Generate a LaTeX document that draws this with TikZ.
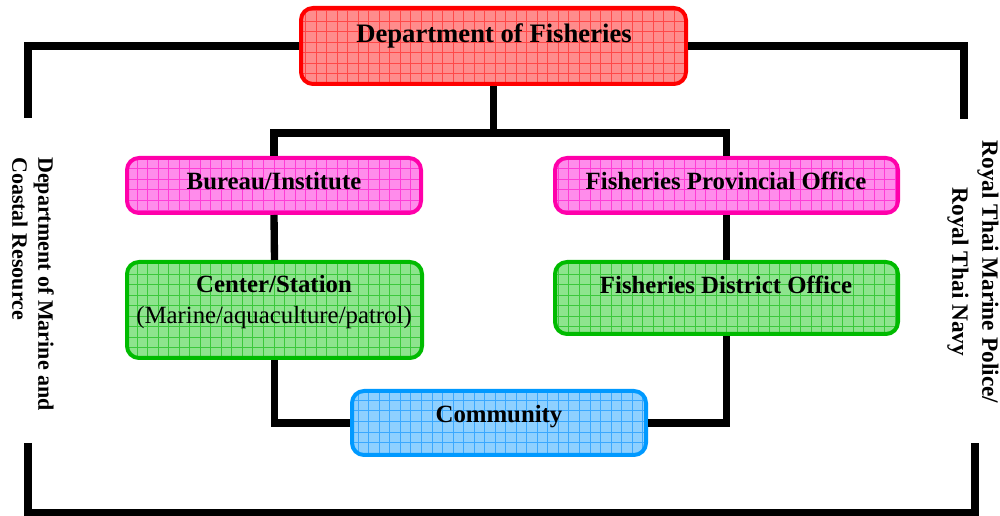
\documentclass[tikz,border=0pt]{standalone}
\usepackage{fontspec}
\setmainfont{Liberation Serif}
\usetikzlibrary{fit}
\definecolor{redS}{HTML}{FF0000}\definecolor{redF}{HTML}{FF8C8C}\definecolor{redG}{HTML}{FF4848}
\definecolor{magS}{HTML}{FF00AA}\definecolor{magF}{HTML}{FF8CEB}\definecolor{magG}{HTML}{FF3CD6}
\definecolor{grnS}{HTML}{00BB00}\definecolor{grnF}{HTML}{8EE48E}\definecolor{grnG}{HTML}{3CC83C}
\definecolor{bluS}{HTML}{0099FF}\definecolor{bluF}{HTML}{8ED0FF}\definecolor{bluG}{HTML}{3AA8FF}
\newcommand{\gridbox}[6]{%
  \path[fill=#2F, rounded corners=9pt] (#3,#4) rectangle (#5,#6);
  \begin{scope}
    \clip[rounded corners=9pt] (#3,#4) rectangle (#5,#6);
    \draw[#2G, line width=0.5pt, step=7.9pt] (#3,#4) grid (#5,#6);
  \end{scope}
  \node[fit={(#3,#4) (#5,#6)}, inner sep=0pt, draw=#2S, line width=3pt, rounded corners=9pt] (#1) {};
}
\tikzset{
  conn/.style={line width=5.5pt, line join=miter, draw=black},
  lbl/.style={font=\fontsize{18.6}{22}\selectfont\bfseries, anchor=base, inner sep=0pt},
}
\begin{document}
\begin{tikzpicture}[x=0.75pt,y=-0.75pt]
\useasboundingbox (0,0) rectangle (1000,516);
% connector coordinates
\coordinate (jl) at (274,133);
\coordinate (jr) at (726.5,133);
\coordinate (ftl) at (28,47);
\coordinate (ftle) at (28,118);
\coordinate (ftr) at (964,47);
\coordinate (ftre) at (964,119);
\coordinate (fbls) at (28,443);
\coordinate (fbl) at (28,512.5);
\coordinate (fbr) at (975,512.5);
\coordinate (fbrs) at (975,443);
% boxes
\gridbox{dept}{red}{301}{8}{686}{84}
\gridbox{bureau}{mag}{127}{158}{421}{213}
\gridbox{prov}{mag}{555}{158}{898}{213}
\gridbox{center}{grn}{127}{262}{422}{358}
\gridbox{district}{grn}{555}{262}{898}{334}
\gridbox{community}{blu}{352}{391}{646}{455}
% connectors
\draw[conn] (dept.south) -- (dept.south |- jl);
\draw[conn] (bureau.north) -- (jl) -- (jr) -- (prov.north);
\draw[conn] (bureau.south) -- (center.north);
\draw[conn] (prov.south) -- (district.north);
\draw[conn] (center.south) |- (community.west);
\draw[conn] (district.south) |- (community.east);
\draw[conn] (dept.west) -- (dept.west -| ftl) -- (ftle);
\draw[conn] (dept.east) -- (dept.east -| ftr) -- (ftre);
\draw[conn] (fbls) -- (fbl) -- (fbr) -- (fbrs);
% texts
\node[lbl, font=\fontsize{20}{24}\selectfont\bfseries] (tdept) at (494,43) {Department of Fisheries};
\node[lbl] (tbureau) at (274,190) {Bureau/Institute};
\node[lbl] (tprov) at (726,190) {Fisheries Provincial Office};
\node[lbl] (tcenter) at (274,293) {Center/Station};
\node[lbl, font=\fontsize{18.6}{22}\selectfont] (tcenter2) at (274,324) {(Marine/aquaculture/patrol)};
\node[lbl] (tdistrict) at (726,294) {Fisheries District Office};
\node[lbl] (tcommunity) at (499,423) {Community};
\node[rotate=-90, align=left, inner sep=0pt, font=\fontsize{16.5}{19.5}\selectfont\bfseries] (tleft) at (33,284) {Department of Marine and\\Coastal Resource};
\node[rotate=-90, align=center, inner sep=0pt, font=\fontsize{17.5}{22.5}\selectfont\bfseries] (tright) at (973,272) {Royal Thai Marine Police/\\Royal Thai Navy};
\end{tikzpicture}
\end{document}
